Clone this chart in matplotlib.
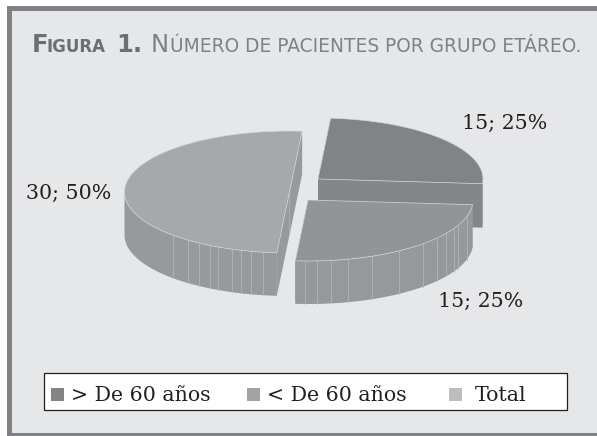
import matplotlib
matplotlib.use("Agg")
import matplotlib.pyplot as plt
import numpy as np
from matplotlib.patches import Polygon, Rectangle

categories = ["> De 60 años", "< De 60 años", "Total"]
values = [15, 15, 30]
percents = [25, 25, 50]

BG = "#e6e7e9"
BORDER = "#808184"
SERIF = "DejaVu Serif"
TITLE_FONT = "DejaVu Sans"

START = 85.6
RX, RY = 165, 61
# slice centres in pixels, depth of each side wall
centers = [(318, 179), (308, 200), (289.5, 192)]
depths = [44, 43, 43]
top_colors = ["#828385", "#939496", "#a7a8aa"]
side_colors = ["#858688", "#97989a", "#98999b"]
legend_colors = ["#838486", "#a2a3a5", "#bcbdbf"]
label_pos = [(505, 129), (481, 307), (69, 199)]
legend_x = [51, 247, 449]
legend_text_x = [71, 267, 475]
facets = [
    [],
    [-91, -87, -82, -76, -67, -56.6, -45.6, -38.7, -33, -28, -25, -16],
    [225, 232, 236.8, 241, 244.5, 249.6, 253, 256.5, 260.8],
]


def ell(c, t):
    t = np.radians(t)
    return np.column_stack([c[0] + RX * np.cos(t), c[1] - RY * np.sin(t)])


def draw_slice(ax, c, t0, t1, depth, top, side, lines):
    # t0 > t1, clockwise on screen
    arc = ell(c, np.linspace(t0, t1, 120))
    # outer wall, front part only (sin t < 0)
    ts = np.linspace(t0, t1, 240)
    front = ts[np.sin(np.radians(ts)) <= 0]
    if len(front):
        wall = ell(c, front)
        ax.add_patch(Polygon(np.vstack([wall, (wall + [0, depth])[::-1]]),
                             fc=side, ec="none", zorder=z[0]))
    # cut walls
    for t in (t0, t1):
        p = ell(c, [t])[0]
        quad = [c, p, p + [0, depth], np.array(c) + [0, depth]]
        ax.add_patch(Polygon(quad, fc=side, ec="none", zorder=z[0]))
    for t in lines:
        p = ell(c, [t])[0]
        ax.plot([p[0], p[0]], [p[1], p[1] + depth], color="#b4b5b7", lw=0.6, zorder=z[0])
    ax.add_patch(Polygon(np.vstack([[c], arc]), fc=top, ec="#d4d5d7", lw=0.5, zorder=z[0] + 0.1))
    z[0] += 1


fig = plt.figure(figsize=(5.97, 4.36), dpi=100, facecolor="white")
ax = fig.add_axes([0, 0, 1, 1])
ax.set_xlim(0, 597)
ax.set_ylim(436, 0)
ax.axis("off")

ax.add_patch(Rectangle((9, 8.5), 600, 426, fc=BG, ec=BORDER, lw=3.6))

# slices, clockwise from START
angles = np.cumsum([0] + values) / sum(values) * 360
z = [2]
for i in [2, 0, 1]:
    draw_slice(ax, centers[i], START - angles[i], START - angles[i + 1], depths[i],
               top_colors[i], side_colors[i], facets[i])

for v, p, (x, y) in zip(values, percents, label_pos):
    ax.text(x, y, f"{v}; {p}%", family=SERIF, fontsize=14.8, color="#231f20",
            ha="center", va="baseline", zorder=20)

# title, small caps built from pieces, (text, size, weight, colour, left x)
pieces = [("F", 17.5, "bold", "#6d6e71", 32), ("IGURA", 12, "bold", "#6d6e71", 47),
          ("1.", 17.5, "bold", "#6d6e71", 116), ("N", 17.5, "normal", "#808184", 151),
          ("ÚMERO DE PACIENTES POR GRUPO ETÁREO.", 13.4, "normal", "#808184", 170)]
for s, size, weight, col, x in pieces:
    ax.text(x, 52, s, family=TITLE_FONT, fontsize=size, weight=weight, color=col,
            ha="left", va="baseline", zorder=20)

# legend
ax.add_patch(Rectangle((44, 372.5), 523, 37.5, fc="white", ec="#231f20", lw=0.9, zorder=20))
for name, c, mx, tx in zip(categories, legend_colors, legend_x, legend_text_x):
    ax.add_patch(Rectangle((mx, 388), 13, 13, fc=c, ec="none", zorder=21))
    ax.text(tx, 401, name, family=SERIF, fontsize=14.8, color="#231f20",
            ha="left", va="baseline", zorder=21)

fig.savefig("out.png", dpi=100)
